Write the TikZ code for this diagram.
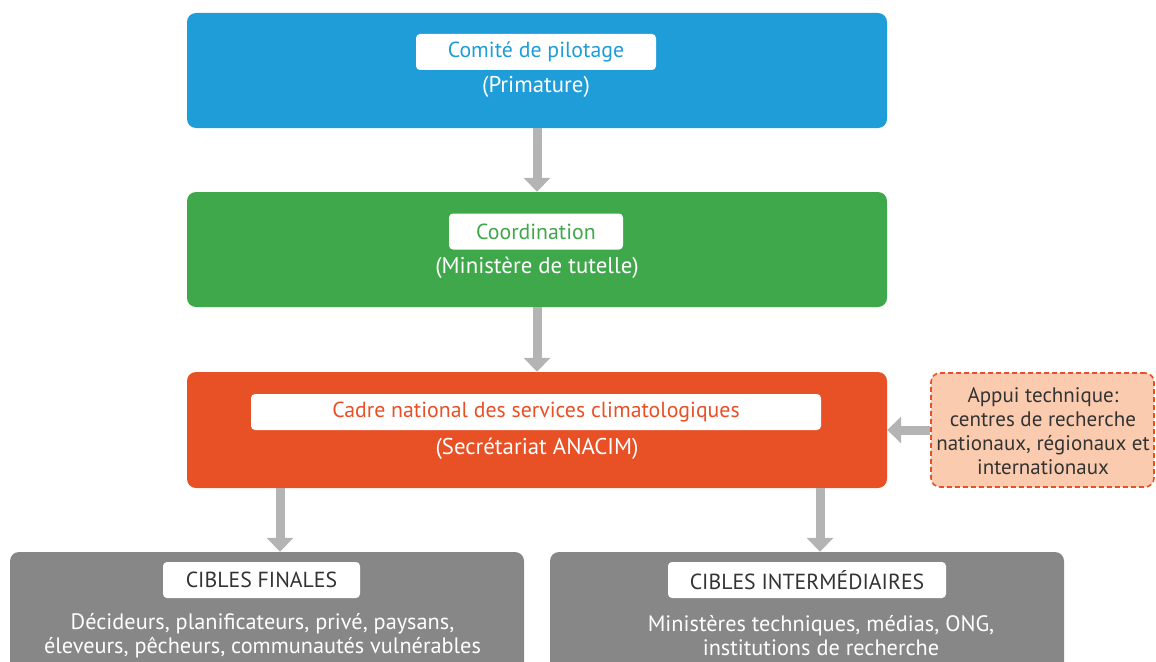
\documentclass[tikz,border=0pt]{standalone}
\usepackage{fontspec}
\setmainfont{PT Sans}
\usetikzlibrary{arrows.meta}
\definecolor{pilotblue}{HTML}{1E9DD8}
\definecolor{coordgreen}{HTML}{3FA84A}
\definecolor{cadreorange}{HTML}{E85026}
\definecolor{appuifill}{HTML}{FACBAE}
\definecolor{ciblegray}{HTML}{878787}
\definecolor{arrowgray}{HTML}{B4B4B4}
\definecolor{darktext}{HTML}{333333}
\tikzset{
  bigbox/.style={rectangle, rounded corners=9pt, minimum width=700pt, minimum height=115pt, inner sep=0pt},
  label/.style={rectangle, fill=white, rounded corners=4pt, minimum height=36pt, inner sep=0pt, font=\fontsize{21.8}{26}\selectfont},
  sub/.style={text=white, inner sep=0pt, font=\fontsize{22.8}{26}\selectfont},
  body/.style={text=white, inner sep=0pt, align=center, font=\fontsize{22.3}{24}\selectfont},
  flow/.style={draw=arrowgray, line width=9pt, -{Triangle[width=26pt,length=14pt]}},
}
\begin{document}
\begin{tikzpicture}[x=1pt, y=-1pt]
\useasboundingbox (0,0) rectangle (1156,661);
\clip (0,0) rectangle (1156,661);

% governance chain
\node[bigbox, fill=pilotblue] (pilot) at (537,70.5) {};
\node[label, minimum width=240pt, text=pilotblue] (pilotlab) at (536,52) {Comité de pilotage};
\node[sub] (pilotsub) at (536,87) {(Primature)};

\node[bigbox, fill=coordgreen] (coord) at (537,249.5) {};
\node[label, minimum width=174pt, text=coordgreen] (coordlab) at (536,231.5) {Coordination};
\node[sub] (coordsub) at (537,268) {(Ministère de tutelle)};

\node[bigbox, fill=cadreorange, minimum height=116pt] (cadre) at (537,430) {};
\node[label, minimum width=570pt, text=cadreorange] (cadrelab) at (536,412) {Cadre national des services climatologiques};
\node[sub] (cadresub) at (537,449) {(Secrétariat ANACIM)};

% technical support
\node[rectangle, rounded corners=9pt, fill=appuifill, draw=cadreorange, line width=1.6pt,
      dash pattern=on 5pt off 3pt, minimum width=223pt, minimum height=114pt, inner sep=0pt] (appui) at (1042.5,430) {};
\node[text=darktext, align=center, inner sep=0pt, font=\fontsize{21}{24}\selectfont] (appuitxt) at (1043,431)
  {Appui technique:\\centres de recherche\\nationaux, régionaux et\\internationaux};

% target groups
\node[rectangle, rounded corners=9pt, fill=ciblegray, minimum width=514pt, minimum height=130pt, inner sep=0pt] (finales) at (267,617) {};
\node[label, minimum width=197pt, text=darktext] (finaleslab) at (261.5,580) {CIBLES FINALES};
\node[body] (finalestxt) at (262.5,636) {Décideurs, planificateurs, privé, paysans,\\éleveurs, pêcheurs, communautés vulnérables};

\node[rectangle, rounded corners=9pt, fill=ciblegray, minimum width=514pt, minimum height=130pt, inner sep=0pt] (inter) at (807,617) {};
\node[label, minimum width=278pt, text=darktext] (interlab) at (807,580) {CIBLES INTERMÉDIAIRES};
\node[body] (intertxt) at (821,636) {Ministères techniques, médias, ONG,\\institutions de recherche};

% connectors
\draw[flow] (pilot.south) -- (coord.north);
\draw[flow] (coord.south) -- (cadre.north);
\draw[flow] (appui.west) -- (cadre.east);
\draw[flow] ([xshift=13pt]cadre.south -| finales.north) -- ([xshift=13pt]finales.north);
\draw[flow] ([xshift=13pt]cadre.south -| inter.north) -- ([xshift=13pt]inter.north);
\end{tikzpicture}
\end{document}
